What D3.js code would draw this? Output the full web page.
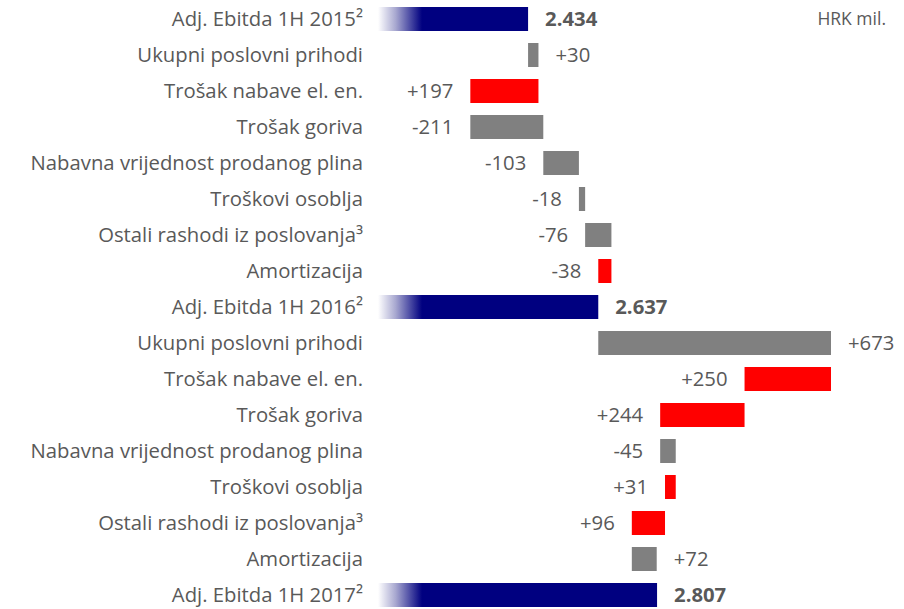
<!DOCTYPE html>
<html>
<head>
<meta charset="utf-8">
<script src="https://cdn.jsdelivr.net/npm/d3@7"></script>
<style>
  body { margin: 0; background: #fff; }
  text { font-family: "Open Sans", sans-serif; }
</style>
</head>
<body>
<div id="chart"></div>
<script>
const width = 904;
const height = 609;

// rows, top to bottom
const categories = [
  "Adj. Ebitda 1H 2015²",
  "Ukupni poslovni prihodi",
  "Trošak nabave el. en.",
  "Trošak goriva",
  "Nabavna vrijednost prodanog plina",
  "Troškovi osoblja",
  "Ostali rashodi iz poslovanja³",
  "Amortizacija",
  "Adj. Ebitda 1H 2016²",
  "Ukupni poslovni prihodi",
  "Trošak nabave el. en.",
  "Trošak goriva",
  "Nabavna vrijednost prodanog plina",
  "Troškovi osoblja",
  "Ostali rashodi iz poslovanja³",
  "Amortizacija",
  "Adj. Ebitda 1H 2017²"
];

// totals (null = change row)
const totals = [2434, null, null, null, null, null, null, null, 2637,
                null, null, null, null, null, null, null, 2807];

// effect on EBITDA of each change row
const effects = [null, 30, -197, 211, 103, 18, 76, -38, null,
                 673, -250, -244, 45, -31, -96, 72, null];

// labels as printed in the chart
const valueLabels = ["2.434", "+30", "+197", "-211", "-103", "-18", "-76", "-38", "2.637",
                     "+673", "+250", "+244", "-45", "+31", "+96", "+72", "2.807"];

// rows whose label sits right of the bar
const rightLabelRows = [1, 9, 15];

const totalBase = 2000;

// build waterfall segments
let running = 0;
const rows = categories.map((c, i) => {
  if (totals[i] !== null) {
    running = totals[i];
    return { i, name: c, type: "total", x0: totalBase, x1: totals[i], label: valueLabels[i] };
  }
  const start = running;
  running += effects[i];
  return {
    i, name: c,
    type: effects[i] >= 0 ? "up" : "down",
    x0: Math.min(start, running),
    x1: Math.max(start, running),
    label: valueLabels[i]
  };
});

const svg = d3.select("#chart")
  .append("svg")
  .attr("width", width)
  .attr("height", height);

const x = d3.scaleLinear()
  .domain([2000, 3400])
  .range([378, 378 + 1400 * 0.3458]);

const y = d3.scaleBand()
  .domain(d3.range(categories.length))
  .range([1, 1 + 36 * categories.length])
  .paddingInner(12 / 36)
  .paddingOuter(6 / 36);

const grad = svg.append("defs").append("linearGradient")
  .attr("id", "navyFade")
  .attr("gradientUnits", "userSpaceOnUse")
  .attr("x1", x(totalBase))
  .attr("x2", x(totalBase) + 44)
  .attr("y1", 0).attr("y2", 0);
grad.append("stop").attr("offset", 0).attr("stop-color", "#ffffff");
grad.append("stop").attr("offset", 0.4).attr("stop-color", "#a8a8d0");
grad.append("stop").attr("offset", 1).attr("stop-color", "#000080");

const colors = { total: "url(#navyFade)", up: "#808080", down: "#ff0000" };

svg.append("g")
  .selectAll("rect")
  .data(rows)
  .join("rect")
  .attr("x", d => x(d.x0))
  .attr("width", d => x(d.x1) - x(d.x0))
  .attr("y", d => y(d.i))
  .attr("height", y.bandwidth())
  .attr("fill", d => colors[d.type]);

const fontSize = 20.3;

// category labels
svg.append("g")
  .selectAll("text")
  .data(rows)
  .join("text")
  .attr("x", 363)
  .attr("y", d => y(d.i) + y.bandwidth() / 2)
  .attr("dy", "0.35em")
  .attr("text-anchor", "end")
  .attr("font-size", fontSize)
  .attr("fill", "#595959")
  .text(d => d.name);

// value labels
const onRight = d => d.type === "total" || rightLabelRows.includes(d.i);
svg.append("g")
  .selectAll("text")
  .data(rows)
  .join("text")
  .attr("x", d => onRight(d) ? x(d.x1) + 17 : x(d.x0) - 17)
  .attr("y", d => y(d.i) + y.bandwidth() / 2)
  .attr("dy", "0.35em")
  .attr("text-anchor", d => onRight(d) ? "start" : "end")
  .attr("font-size", fontSize)
  .attr("font-weight", d => d.type === "total" ? "bold" : "normal")
  .attr("fill", "#595959")
  .text(d => d.label);

svg.append("text")
  .attr("x", 886)
  .attr("y", 19)
  .attr("dy", "0.35em")
  .attr("text-anchor", "end")
  .attr("font-size", 17.5)
  .attr("fill", "#595959")
  .text("HRK mil.");
</script>
</body>
</html>
